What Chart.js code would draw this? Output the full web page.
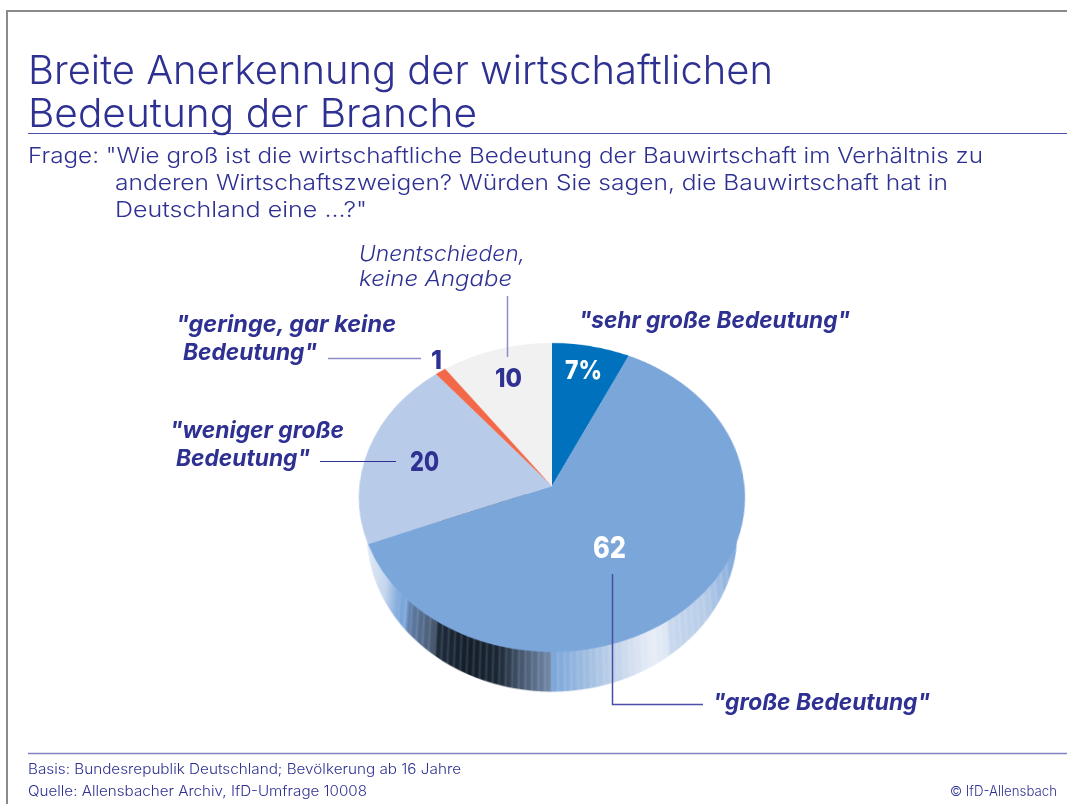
<!DOCTYPE html>
<html lang="de">
<head>
<meta charset="utf-8">
<title>Breite Anerkennung der wirtschaftlichen Bedeutung der Branche</title>
<script src="https://cdn.jsdelivr.net/npm/chart.js@4"></script>
<style>
  html, body { margin: 0; padding: 0; background: #fff; }
  #page { position: relative; width: 1067px; height: 804px; overflow: hidden; background: #fff; }
  #frame { position: absolute; left: 6px; top: 10px; width: 1100px; height: 900px; border: 2px solid #8a8a8a; box-sizing: border-box; }
  /* the pie lies tilted: the flat Chart.js circle gets a perspective, pivot is the pie centre */
  #pieBox { position: absolute; left: 302px; top: 236px; width: 500px; height: 500px;
    transform-origin: 250px 250px;
    transform: matrix3d(1,0,0,0, 0,0.798,0,-0.000386, 0,0,1,0, 0,0,0,1); }
  #overlay { position: absolute; left: 0; top: 0; }
  #overlay text { font-family: Inter, Lato, sans-serif; fill: #2e3192; }
</style>
</head>
<body>
<div id="page">
  <div id="frame"></div>
  <div id="pieBox"><canvas id="pie" width="500" height="500"></canvas></div>
  <svg id="overlay" width="1067" height="804" xmlns="http://www.w3.org/2000/svg"></svg>
</div>
<script>
// data, clockwise from 12 o'clock
const categories = ['"sehr große Bedeutung"', '"große Bedeutung"', '"weniger große Bedeutung"', '"geringe, gar keine Bedeutung"', 'Unentschieden, keine Angabe']
const shares = [7, 62, 20, 1, 10]
const valueLabels = ['7%', '62', '20', '1', '10']
const sliceColors = ['#0071bc', '#7ba6da', '#b8cce9', '#f26849', '#f1f1f1']

// side wall of the pie, [x on the page, colour]
const wallStops = [
  [366, '#dfe8f5'], [385, '#c4d6ee'], [400, '#7ba6da'], [407, '#7ba6da'], [411, '#5f7ea8'], [436, '#47586f'],
  [440, '#1f2c3c'], [470, '#131d2a'], [500, '#1b2735'], [520, '#42526a'], [550, '#7088a8'],
  [553, '#7ba6da'], [590, '#a4c0e2'], [625, '#cfdcee'], [650, '#e6edf7'], [664, '#dde7f4'],
  [668, '#c8d8ee'], [705, '#b6cce8'], [742, '#7ba6da']
]

const wallPlugin = {
  id: 'wall',
  beforeDatasetsDraw(chart) {
    let arc = chart.getDatasetMeta(0).data[0]
    let ctx = chart.ctx
    let depth = 42
    let R = arc.outerRadius
    let grad = ctx.createLinearGradient(arc.x - R, 0, arc.x + R, 0)
    let pageLeft = 552 - R
    for (let stop of wallStops) {
      // the wall sits lower, so perspective spreads it a little: undo that for the stops
      let pos = (552 + (stop[0] - 552) * 0.95 - pageLeft) / (2 * R)
      grad.addColorStop(Math.min(1, Math.max(0, pos)), stop[1])
    }
    ctx.save()
    ctx.fillStyle = grad
    ctx.beginPath()
    // a bit narrower than the face, the wall tucks in below the rim
    ctx.ellipse(arc.x, arc.y + depth, R * 0.945, R, 0, 0, Math.PI)
    ctx.lineTo(arc.x - R * 0.975, arc.y + 10)
    ctx.lineTo(arc.x + R * 0.975, arc.y + 10)
    ctx.closePath()
    ctx.fill()
    ctx.clip()
    // banding of the original shading
    ctx.strokeStyle = 'rgba(255,255,255,0.12)'
    ctx.lineWidth = 2
    for (let x = arc.x - R * 0.75; x < arc.x + R * 0.9; x += 6) {
      ctx.beginPath()
      ctx.moveTo(x, arc.y)
      ctx.lineTo(x, arc.y + R + depth)
      ctx.stroke()
    }
    ctx.restore()
  }
}

new Chart(document.getElementById('pie'), {
  type: 'pie',
  data: {
    labels: categories,
    datasets: [{ label: 'Anteil', data: shares, backgroundColor: sliceColors, borderWidth: 0 }]
  },
  options: {
    responsive: false,
    animation: false,
    rotation: 0,
    layout: { padding: 57.5 },
    plugins: { legend: { display: false }, tooltip: { enabled: false } }
  },
  plugins: [wallPlugin]
})

// texts and leader lines on top
const SVGNS = 'http://www.w3.org/2000/svg'
const overlay = document.getElementById('overlay')

function addText(str, x, y, width, size, opts) {
  opts = opts || {}
  let t = document.createElementNS(SVGNS, 'text')
  t.textContent = str
  t.setAttribute('x', x)
  t.setAttribute('y', y)
  t.setAttribute('font-size', size)
  t.setAttribute('font-weight', opts.weight || 400)
  if (opts.italic) t.setAttribute('font-style', 'italic')
  if (opts.color) t.style.fill = opts.color
  t.setAttribute('textLength', width)
  t.setAttribute('lengthAdjust', 'spacingAndGlyphs')
  overlay.appendChild(t)
}

function addLine(points, color, w) {
  let p = document.createElementNS(SVGNS, 'polyline')
  p.setAttribute('points', points)
  p.setAttribute('fill', 'none')
  p.setAttribute('stroke', color)
  p.setAttribute('stroke-width', w)
  overlay.appendChild(p)
}

addLine('28,133.5 1067,133.5', '#4a4ea6', 1)
addLine('28,753.5 1067,753.5', '#7f82c2', 1.5)
addLine('507.5,296 507.5,357', '#8a8cc8', 1.5)
addLine('328,358.5 421,358.5', '#8a8cc8', 1.5)
addLine('320,461.5 396,461.5', '#2e3192', 1)
addLine('612.5,574 612.5,704.5 703,704.5', '#4a4ea6', 1.5)

addText('Breite Anerkennung der wirtschaftlichen', 28, 84, 745, 40, { weight: 300 })
addText('Bedeutung der Branche', 28, 127, 449, 40, { weight: 300 })
addText('Frage: "Wie groß ist die wirtschaftliche Bedeutung der Bauwirtschaft im Verhältnis zu', 28, 163, 955, 22, { weight: 300 })
addText('anderen Wirtschaftszweigen? Würden Sie sagen, die Bauwirtschaft hat in', 115, 190, 833, 22, { weight: 300 })
addText('Deutschland eine ...?"', 115, 217, 252, 22, { weight: 300 })

addText('Unentschieden,', 359, 261, 166, 22, { italic: true, weight: 300 })
addText('keine Angabe', 359, 286, 153, 22, { italic: true, weight: 300 })
addText('"sehr große Bedeutung"', 579, 328, 271, 23, { weight: 700, italic: true })
addText('"geringe, gar keine', 176, 332, 220, 23, { weight: 700, italic: true })
addText('Bedeutung"', 183, 360, 134, 23, { weight: 700, italic: true })
addText('"weniger große', 170, 438, 174, 23, { weight: 700, italic: true })
addText('Bedeutung"', 176, 466, 134, 23, { weight: 700, italic: true })
addText('"große Bedeutung"', 713, 710, 217, 23, { weight: 700, italic: true })

addText(valueLabels[0], 565, 379, 37, 26, { weight: 800, color: '#ffffff' })
addText(valueLabels[1], 593, 558, 33, 30, { weight: 800, color: '#ffffff' })
addText(valueLabels[2], 410, 471, 29, 27, { weight: 800 })
addText(valueLabels[3], 431, 369, 11, 26, { weight: 800 })
addText(valueLabels[4], 495, 387, 27, 26, { weight: 800 })

addText('Basis: Bundesrepublik Deutschland; Bevölkerung ab 16 Jahre', 28, 774, 433, 14, { weight: 300 })
addText('Quelle: Allensbacher Archiv, IfD-Umfrage 10008', 28, 796, 339, 14, { weight: 300 })
addText('© IfD-Allensbach', 950, 796, 107, 14, { weight: 300 })
</script>
</body>
</html>
